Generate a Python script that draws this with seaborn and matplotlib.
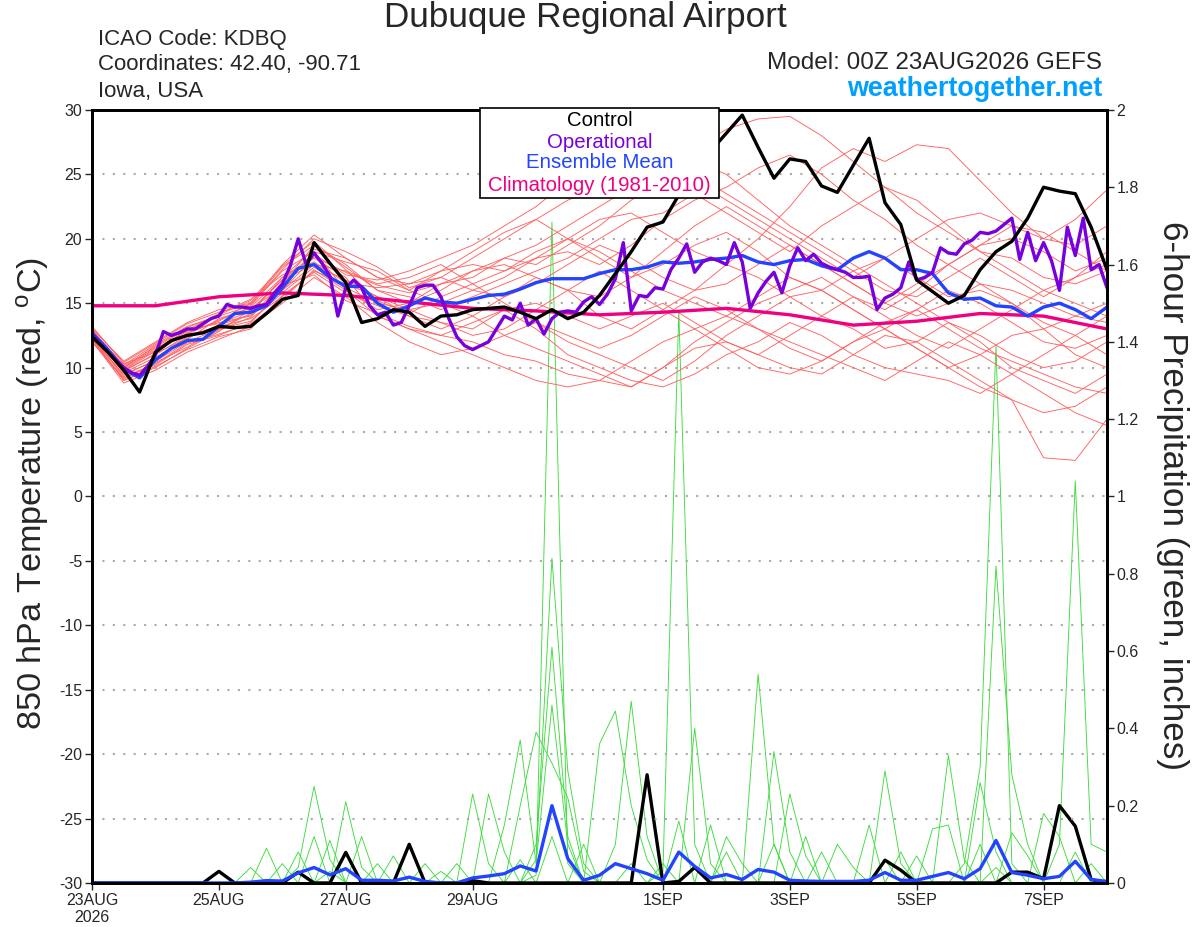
import numpy as np
import pandas as pd
import seaborn as sns
import matplotlib.pyplot as plt
from matplotlib.patches import Rectangle

# time axes (hours after 00Z 23AUG2026)
hours3 = np.arange(0, 385, 3)
hours6 = np.arange(0, 385, 6)
hours12 = np.arange(0, 385, 12)
hours24 = np.arange(0, 385, 24)

date_ticks = [0, 48, 96, 144, 216, 264, 312, 360]
date_labels = ["23AUG\n2026", "25AUG", "27AUG", "29AUG", "1SEP", "3SEP", "5SEP", "7SEP"]
temp_ticks = list(range(-30, 31, 5))
pcp_ticks = [0, 0.2, 0.4, 0.6, 0.8, 1.0, 1.2, 1.4, 1.6, 1.8, 2.0]
pcp_labels = ["0", "0.2", "0.4", "0.6", "0.8", "1", "1.2", "1.4", "1.6", "1.8", "2"]

# 850 hPa temperature, control run (6-hourly)
control_temp = [12.4, 11.2, 9.8, 8.1, 11.2, 12.1, 12.5, 12.7, 13.2, 13.1,
                13.2, 14.2, 15.3, 15.6, 19.7, 18.1, 16.6, 13.5, 13.8, 14.5,
                14.3, 13.2, 14.0, 14.1, 14.5, 14.6, 14.7, 14.3, 13.8, 14.5,
                13.8, 14.3, 15.6, 17.3, 19.0, 20.9, 21.3, 23.4, 25.3, 26.8,
                28.2, 29.6, 27.1, 24.7, 26.2, 26.0, 24.1, 23.6, 25.7, 27.8,
                22.8, 21.1, 16.8, 15.9, 15.0, 15.6, 17.6, 19.0, 19.8, 21.6,
                24.0, 23.7, 23.5, 20.9, 17.6]

# operational run (3-hourly)
oper_temp = [12.6, 11.9, 11.2, 10.6, 10.0, 9.6, 9.4, 10.1, 11.0, 12.8,
             12.5, 12.7, 13.0, 13.0, 13.4, 13.8, 14.0, 14.9, 14.7, 14.7,
             14.6, 14.8, 14.9, 15.8, 16.5, 17.9, 20.0, 18.0, 18.9, 18.1,
             17.1, 14.0, 16.2, 16.8, 16.2, 14.8, 14.1, 14.3, 13.3, 13.5,
             14.8, 16.2, 16.4, 16.4, 15.5, 13.8, 12.4, 11.7, 11.4, 11.7,
             12.0, 13.0, 14.0, 13.7, 15.0, 13.3, 13.8, 12.6, 13.8, 14.3,
             14.4, 14.3, 15.1, 15.5, 14.9, 15.7, 16.9, 19.7, 14.4, 15.6,
             15.5, 16.2, 16.1, 17.6, 18.5, 19.6, 17.4, 18.2, 18.5, 18.3,
             18.0, 19.7, 18.2, 14.6, 15.8, 16.7, 17.4, 15.8, 17.9, 19.3,
             18.3, 18.8, 18.1, 17.8, 17.6, 17.4, 17.0, 17.0, 17.1, 14.5,
             15.4, 15.7, 16.2, 18.2, 16.8, 17.0, 17.4, 19.3, 18.9, 18.8,
             19.6, 19.9, 20.5, 20.4, 20.6, 21.1, 21.6, 18.4, 20.5, 18.3,
             19.7, 18.3, 16.0, 20.9, 18.7, 21.6, 17.6, 18.0, 16.2]

# ensemble mean (6-hourly)
mean_temp = [12.7, 11.4, 9.9, 9.2, 10.6, 11.5, 12.1, 12.2, 13.2, 14.2,
             14.3, 14.8, 16.2, 17.7, 18.0, 17.0, 16.3, 16.3, 15.0, 14.3,
             14.8, 15.4, 15.1, 15.0, 15.3, 15.6, 15.7, 16.1, 16.6, 16.9,
             16.9, 16.9, 17.3, 17.6, 17.6, 17.8, 18.2, 18.1, 18.2, 18.4,
             18.5, 18.7, 18.2, 18.0, 18.3, 18.4, 17.9, 17.6, 18.5, 19.0,
             18.5, 17.6, 17.6, 17.3, 15.8, 15.3, 15.4, 14.8, 14.7, 14.0,
             14.7, 15.0, 14.5, 13.8, 14.7]

# climatology 1981-2010 (daily)
clim_temp = [14.8, 14.8, 15.5, 15.8, 15.6, 15.1, 14.6, 14.4, 14.1,
             14.3, 14.6, 14.1, 13.3, 13.6, 14.2, 14.0, 13.0]

# ensemble members (12-hourly estimates)
member_temps = [
    [12.8, 10.0, 11.5, 12.8, 13.5, 14.0, 16.5, 19.5, 18.0, 16.0, 15.0, 16.5, 17.0, 18.5, 19.5, 21.0, 22.5,
     24.0, 25.5, 27.0, 28.5, 29.3, 29.5, 28.0, 26.0, 24.0, 22.0, 20.5, 19.0, 18.5, 17.0, 16.5, 17.5],
    [12.2, 9.5, 10.5, 12.0, 13.0, 14.2, 17.0, 18.5, 17.0, 14.0, 13.0, 12.5, 12.0, 11.0, 10.5, 9.5, 9.0,
     8.5, 10.0, 11.5, 12.0, 11.0, 10.0, 9.5, 11.0, 12.5, 12.0, 10.5, 9.0, 7.5, 3.0, 2.8, 6.0],
    [13.0, 10.5, 12.0, 13.5, 14.5, 15.0, 18.0, 20.3, 18.5, 17.0, 16.5, 17.5, 18.0, 17.5, 19.0, 20.0, 21.5,
     22.0, 20.5, 19.0, 18.0, 20.0, 22.5, 25.5, 27.0, 26.0, 27.3, 27.0, 24.5, 22.0, 20.0, 21.5, 23.8],
    [12.5, 9.8, 11.0, 12.5, 13.2, 13.8, 15.5, 17.5, 16.5, 15.5, 14.0, 13.0, 14.0, 15.5, 17.0, 16.0, 14.0,
     13.0, 14.5, 16.0, 18.0, 17.0, 15.5, 14.0, 13.0, 11.5, 12.0, 13.5, 12.0, 10.0, 9.0, 8.0, 9.5],
    [12.0, 9.2, 10.2, 11.8, 12.5, 13.5, 16.0, 18.0, 17.5, 16.5, 17.0, 18.0, 16.5, 15.0, 13.5, 12.0, 11.0,
     10.0, 9.0, 10.5, 12.5, 14.0, 15.5, 16.0, 17.5, 18.5, 17.0, 15.5, 16.0, 15.0, 13.5, 12.5, 11.0],
    [12.9, 10.2, 11.8, 13.2, 14.0, 14.8, 17.5, 19.0, 16.0, 14.5, 15.0, 16.0, 17.5, 18.5, 18.0, 19.5, 21.0,
     23.0, 24.5, 26.0, 25.0, 23.0, 21.0, 19.5, 18.0, 16.5, 15.0, 13.5, 12.5, 11.0, 10.0, 10.5, 12.0],
    [12.3, 9.0, 10.0, 11.5, 12.8, 14.5, 16.8, 18.0, 16.8, 15.5, 14.5, 15.0, 14.0, 12.5, 11.5, 10.5, 9.5,
     8.5, 10.0, 12.0, 13.5, 15.0, 16.0, 17.0, 15.5, 14.5, 16.0, 18.0, 19.5, 20.0, 19.0, 17.5, 18.5],
    [12.6, 9.6, 10.8, 12.2, 13.8, 14.6, 16.2, 19.0, 18.2, 17.5, 16.0, 15.0, 16.0, 17.0, 18.5, 20.0, 19.0,
     17.5, 16.0, 15.0, 14.0, 13.0, 11.5, 10.5, 12.0, 13.0, 11.5, 10.0, 11.0, 12.5, 13.0, 14.0, 15.0],
    [13.2, 10.3, 11.2, 12.7, 13.6, 15.0, 17.8, 19.5, 17.8, 16.0, 15.5, 14.5, 15.5, 16.5, 17.5, 18.5, 20.0,
     21.5, 22.0, 23.5, 22.0, 20.5, 19.0, 21.0, 22.5, 24.0, 23.0, 21.0, 19.0, 17.5, 16.0, 15.0, 14.0],
    [12.1, 8.8, 9.8, 11.2, 12.2, 13.2, 15.0, 17.0, 15.5, 13.5, 12.0, 11.0, 11.5, 12.5, 13.5, 12.5, 11.5,
     12.5, 14.0, 15.5, 14.5, 13.0, 12.0, 11.0, 10.0, 9.0, 10.5, 12.0, 11.0, 9.5, 8.0, 6.5, 5.5],
    [12.7, 10.1, 11.6, 13.0, 13.4, 14.4, 16.8, 18.8, 17.2, 16.8, 17.5, 18.5, 19.5, 21.0, 22.5, 24.5, 26.5,
     28.0, 27.0, 25.0, 23.5, 22.0, 20.5, 19.0, 17.5, 16.0, 15.5, 17.0, 18.5, 17.0, 15.5, 17.0, 19.0],
    [12.4, 9.4, 10.6, 12.4, 13.0, 13.6, 15.8, 17.8, 16.2, 15.0, 14.5, 13.5, 13.0, 14.5, 15.0, 14.0, 13.0,
     14.0, 15.0, 13.5, 12.0, 11.0, 12.5, 14.0, 15.5, 14.0, 12.5, 11.5, 13.0, 14.5, 16.0, 17.0, 18.0],
    [12.8, 9.9, 11.4, 12.9, 14.2, 15.3, 17.2, 18.2, 16.6, 16.2, 16.5, 17.0, 16.0, 15.5, 16.5, 18.0, 19.5,
     18.5, 17.0, 16.0, 16.5, 18.0, 19.5, 18.0, 16.5, 15.0, 14.0, 15.0, 16.5, 15.0, 13.0, 11.0, 10.0],
    [12.0, 9.1, 10.4, 11.6, 12.9, 13.9, 16.4, 17.2, 15.2, 14.2, 13.2, 12.5, 13.5, 14.5, 13.0, 11.0, 10.0,
     9.0, 8.5, 9.5, 11.0, 12.0, 13.5, 12.5, 11.0, 10.0, 9.5, 9.0, 8.0, 9.5, 11.0, 12.5, 14.0],
    [13.1, 10.4, 11.9, 13.4, 14.3, 14.9, 17.6, 20.0, 19.0, 17.8, 16.2, 17.0, 18.5, 20.0, 21.5, 23.0, 24.0,
     25.0, 26.0, 24.5, 23.0, 21.5, 20.0, 18.5, 17.0, 18.5, 20.0, 21.5, 22.0, 21.0, 20.0, 19.5, 21.0],
    [12.5, 9.7, 11.1, 12.3, 13.3, 14.1, 16.0, 18.6, 17.4, 16.4, 15.8, 16.5, 17.5, 18.0, 17.0, 16.0, 15.5,
     17.0, 18.0, 19.5, 20.5, 19.0, 17.0, 16.0, 14.5, 13.0, 14.5, 16.0, 15.0, 13.5, 12.0, 11.5, 12.5],
    [12.6, 9.8, 11.3, 12.6, 13.7, 14.7, 17.0, 19.2, 18.5, 17.0, 16.0, 17.5, 19.0, 20.5, 21.5, 20.0, 18.5,
     17.0, 19.0, 21.0, 22.5, 21.0, 19.5, 18.0, 16.5, 15.0, 16.5, 18.0, 19.5, 21.0, 20.5, 19.0, 17.5],
    [12.3, 9.3, 10.3, 11.9, 12.6, 13.4, 15.3, 17.6, 16.0, 14.0, 13.0, 12.0, 11.0, 10.0, 9.0, 8.5, 9.0,
     10.5, 12.0, 13.0, 11.5, 10.0, 9.5, 10.5, 12.0, 13.5, 14.5, 13.0, 11.5, 10.5, 9.5, 8.5, 8.0],
    [12.9, 10.0, 11.7, 13.1, 14.1, 15.2, 17.9, 19.8, 17.6, 15.2, 14.2, 15.5, 16.5, 17.5, 18.5, 19.0, 18.0,
     19.5, 21.5, 23.0, 24.0, 25.5, 26.5, 25.0, 23.0, 21.5, 19.5, 18.0, 16.5, 16.0, 15.0, 14.0, 13.5],
    [12.2, 9.0, 10.1, 11.4, 12.4, 13.0, 15.6, 17.4, 15.8, 14.8, 14.0, 13.5, 12.5, 13.0, 14.5, 16.0, 17.5,
     16.0, 14.5, 13.0, 14.0, 15.5, 17.0, 16.0, 14.5, 13.0, 11.5, 10.0, 8.5, 7.5, 6.5, 7.0, 8.5],
]

# 6-hour precipitation (inches), ensemble mean
mean_pcp = [0, 0, 0, 0, 0, 0, 0, 0, 0, 0,
            0.002, 0.006, 0.005, 0.026, 0.04, 0.021, 0.037, 0.007, 0.007, 0.005,
            0.015, 0.004, 0, 0, 0.013, 0.018, 0.024, 0.044, 0.031, 0.20,
            0.063, 0.007, 0.02, 0.05, 0.037, 0.024, 0.007, 0.08, 0.043, 0.013,
            0.022, 0.009, 0.035, 0.028, 0.007, 0.005, 0.004, 0.004, 0.004, 0.007,
            0.027, 0.007, 0.007, 0.017, 0.027, 0.011, 0.037, 0.11, 0.027, 0.02,
            0.011, 0.017, 0.056, 0.009, 0.004]

# control precipitation, nonzero 6-hour steps only
control_pcp = {8: 0.03, 13: 0.028, 16: 0.079, 20: 0.10, 24: 0.006, 35: 0.28, 37: 0.004,
               38: 0.04, 50: 0.059, 51: 0.033, 58: 0.028, 59: 0.028, 60: 0.011,
               61: 0.20, 62: 0.147, 63: 0.009}

# member precipitation, nonzero 6-hour steps only
member_pcps = [
    {13: 0.04, 14: 0.25, 15: 0.06, 28: 0.02, 29: 1.71, 30: 0.05, 43: 0.10, 57: 0.04},
    {11: 0.09, 16: 0.21, 17: 0.04, 36: 0.03, 37: 1.48, 38: 0.10, 50: 0.06},
    {20: 0.10, 29: 0.12, 55: 0.05, 56: 0.30, 57: 1.39, 58: 0.05, 62: 0.08},
    {15: 0.11, 27: 0.06, 42: 0.54, 43: 0.10, 61: 0.10, 62: 1.04, 63: 0.10, 64: 0.08},
    {24: 0.23, 25: 0.05, 28: 0.06, 29: 0.84, 30: 0.29, 31: 0.05, 44: 0.23, 45: 0.07},
    {25: 0.23, 26: 0.08, 28: 0.10, 29: 0.61, 30: 0.12, 50: 0.29, 51: 0.05},
    {26: 0.15, 27: 0.37, 28: 0.05, 29: 0.46, 30: 0.10, 54: 0.33, 55: 0.06},
    {27: 0.20, 28: 0.39, 29: 0.31, 30: 0.22, 31: 0.03, 56: 0.26, 57: 0.08},
    {32: 0.36, 33: 0.445, 34: 0.20, 35: 0.06, 57: 0.82, 58: 0.28, 59: 0.10},
    {33: 0.10, 34: 0.47, 35: 0.12, 38: 0.40, 39: 0.05, 60: 0.18, 61: 0.12},
    {12: 0.05, 14: 0.12, 16: 0.08, 21: 0.05, 43: 0.34, 44: 0.08, 47: 0.10, 48: 0.04},
    {10: 0.04, 13: 0.08, 17: 0.12, 19: 0.07, 37: 0.16, 40: 0.12, 41: 0.05, 53: 0.14, 54: 0.15},
    {15: 0.03, 23: 0.05, 31: 0.10, 36: 0.05, 39: 0.15, 46: 0.08, 49: 0.15, 52: 0.07, 58: 0.13, 59: 0.07},
    {18: 0.05, 22: 0.03, 34: 0.05, 40: 0.08, 45: 0.12, 51: 0.08, 56: 0.10, 63: 0.05},
]

RED = "#FF6262"
GREEN = "#3EDC3E"
PURPLE = "#7800DC"
BLUE = "#2244FF"
PINK = "#EE0080"
WEB_BLUE = "#00A0FF"


def sparse_to_series(nonzero):
    vals = np.zeros(len(hours6))
    for i, v in nonzero.items():
        vals[i] = v
    return vals


def build_frames():
    temp_rows = []
    for m, vals in enumerate(member_temps):
        temp_rows.append(pd.DataFrame({"member": m, "hour": hours12, "value": vals}))
    pcp_rows = []
    for m, nz in enumerate(member_pcps):
        pcp_rows.append(pd.DataFrame({"member": m, "hour": hours6, "value": sparse_to_series(nz)}))
    return pd.concat(temp_rows, ignore_index=True), pd.concat(pcp_rows, ignore_index=True)


sns.set_style("white")
plt.rcParams["font.family"] = ["Liberation Sans", "DejaVu Sans"]
plt.rcParams["axes.unicode_minus"] = False
plt.rcParams["mathtext.fontset"] = "custom"
plt.rcParams["mathtext.rm"] = "Liberation Sans"
plt.rcParams["mathtext.it"] = "Liberation Sans"

temp_df, pcp_df = build_frames()

fig = plt.figure(figsize=(12, 9.27), dpi=100)
ax = fig.add_axes([0.0767, 0.0475, 0.8458, 0.8339])
ax2 = ax.twinx()
ax.set_zorder(ax2.get_zorder() + 1)
ax.patch.set_visible(False)

# precipitation (right axis, drawn underneath)
sns.lineplot(data=pcp_df, x="hour", y="value", units="member", estimator=None,
             color=GREEN, lw=0.65, ax=ax2, legend=False)
sns.lineplot(x=hours6, y=sparse_to_series(control_pcp), color="black", lw=2.4, ax=ax2)
sns.lineplot(x=hours6, y=mean_pcp, color=BLUE, lw=2.4, ax=ax2)

# temperature (left axis)
for t in temp_ticks[1:-1]:
    ax.axhline(t, color="#AAAAAA", lw=1.5, ls=(0, (1, 4)), zorder=0.5)
sns.lineplot(data=temp_df, x="hour", y="value", units="member", estimator=None,
             color=RED, lw=0.65, ax=ax, legend=False)
sns.lineplot(x=hours24, y=clim_temp, color=PINK, lw=2.4, ax=ax)
sns.lineplot(x=hours6, y=mean_temp, color=BLUE, lw=2.4, ax=ax)
sns.lineplot(x=hours3, y=oper_temp, color=PURPLE, lw=2.4, ax=ax)
sns.lineplot(x=hours6, y=control_temp, color="black", lw=2.4, ax=ax)

ax.set_xlim(0, 384)
ax.set_ylim(-30, 30)
ax2.set_ylim(0, 2)
ax.set_xticks(date_ticks)
ax.set_xticklabels(date_labels)
ax.set_yticks(temp_ticks)
ax2.set_yticks(pcp_ticks)
ax2.set_yticklabels(pcp_labels)
for a in (ax, ax2):
    a.set_xlabel("")
    a.set_ylabel("")
    for s in a.spines.values():
        s.set_linewidth(2)
        s.set_color("black")
ax.tick_params(axis="both", direction="out", length=5, width=1, labelsize=11.5, pad=2,
               left=True, bottom=True)
ax2.tick_params(axis="y", direction="out", length=5, width=1, labelsize=11.5, pad=2, right=True)

# titles and labels
fig.text(0.4875, 0.981, "Dubuque Regional Airport", ha="center", va="center", fontsize=25.3)
fig.text(0.0817, 0.957, "ICAO Code: KDBQ", ha="left", va="center", fontsize=16)
fig.text(0.0817, 0.930, "Coordinates: 42.40, -90.71", ha="left", va="center", fontsize=16)
fig.text(0.0817, 0.901, "Iowa, USA", ha="left", va="center", fontsize=16)
fig.text(0.9183, 0.932, "Model: 00Z 23AUG2026 GEFS", ha="right", va="center", fontsize=17.5)
fig.text(0.9183, 0.904, "weathertogether.net", ha="right", va="center", fontsize=19.4,
         fontweight="bold", color=WEB_BLUE)
fig.text(0.027, 0.468, r"850 hPa Temperature (red, $^\mathrm{o}$C)", rotation=90,
         ha="center", va="center", fontsize=24.7)
fig.text(0.977, 0.466, "6-hour Precipitation (green, inches)", rotation=270,
         ha="center", va="center", fontsize=25.3)

# legend box
fig.add_artist(Rectangle((0.40, 0.7864), 0.1992, 0.0971, transform=fig.transFigure,
                         facecolor="white", edgecolor="black", lw=1.2, zorder=10))
legend_items = [("Control", "black"), ("Operational", PURPLE),
                ("Ensemble Mean", BLUE), ("Climatology (1981-2010)", PINK)]
for (label, col), yy in zip(legend_items, [0.8695, 0.8468, 0.8242, 0.8004]):
    fig.text(0.4996, yy, label, color=col, ha="center", va="center", fontsize=14.7, zorder=11)

fig.savefig("out.png", dpi=100)
